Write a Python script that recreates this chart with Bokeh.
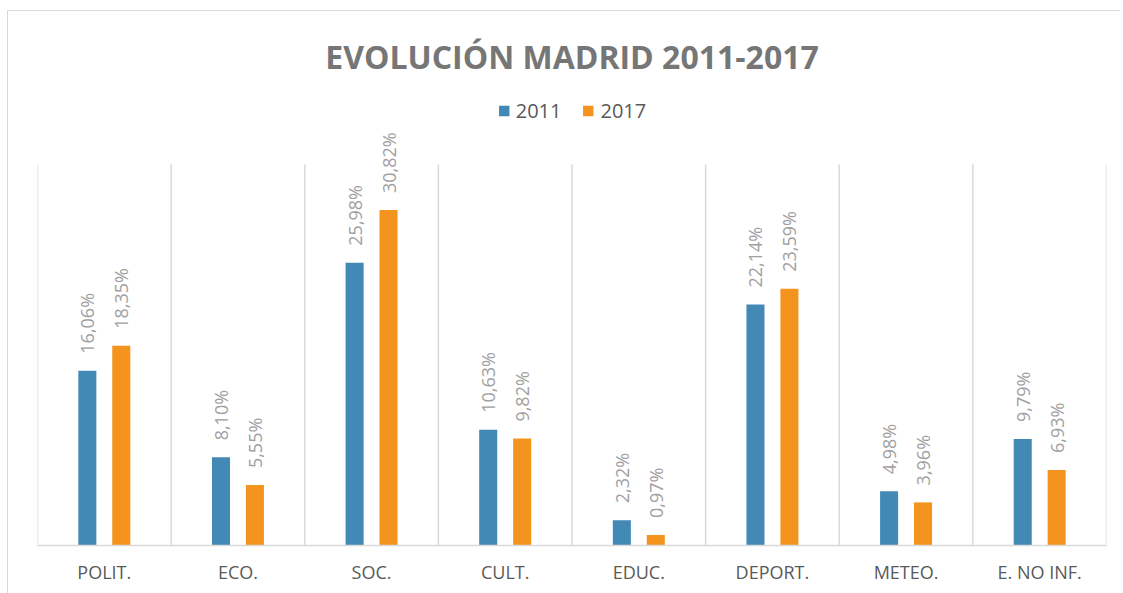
import numpy as np
from bokeh.plotting import figure
from bokeh.models import (ColumnDataSource, FixedTicker, Legend, LegendItem, Range1d)
from bokeh.core.properties import value
from bokeh.embed import file_html
from bokeh.resources import INLINE

categories = ["POLIT.", "ECO.", "SOC.", "CULT.", "EDUC.", "DEPORT.", "METEO.", "E. NO INF."]
series_names = ["2011", "2017"]
values_2011 = [16.06, 8.10, 25.98, 10.63, 2.32, 22.14, 4.98, 9.79]
values_2017 = [18.35, 5.55, 30.82, 9.82, 0.97, 23.59, 3.96, 6.93]
colors = ["#4389b5", "#f5931f"]
y_max = 35

FONT = "Open Sans"

p = figure(width=1120, height=593, output_backend="svg", toolbar_location=None,
           x_range=Range1d(0, len(categories)), y_range=Range1d(0, 42.26),
           min_border_left=37, min_border_right=14, min_border_top=85, min_border_bottom=48,
           title="EVOLUCIÓN MADRID 2011-2017")
p.outline_line_color = None
p.background_fill_color = "white"
p.border_fill_alpha = 0
p.styles = {"background": "linear-gradient(#d9d9d9,#d9d9d9) 7px 10px / 1px 100% no-repeat, "
                          "linear-gradient(#d9d9d9,#d9d9d9) 7px 10px / 100% 1px no-repeat, white"}

p.title.align = "center"
p.title.text_font = FONT
p.title.text_font_size = "32px"
p.title.text_font_style = "bold"
p.title.text_color = "#767676"
p.title.standoff = 15

centers = np.arange(len(categories)) + 0.5
offset = 0.127
bw = 0.135

# vertical separators between categories (gridlines up to the value-axis max)
bounds = np.arange(len(categories) + 1)
p.segment(x0=bounds, x1=bounds, y0=0, y1=y_max, line_color="#d9d9d9", line_width=1.5)

renderers = []
for vals, c, off in [(values_2011, colors[0], -offset), (values_2017, colors[1], offset)]:
    src = ColumnDataSource(dict(
        x=centers + off, top=vals,
        lbl=[("%.2f" % v).replace(".", ",") + "%" for v in vals]))
    r = p.vbar(x="x", top="top", width=bw, bottom=0, source=src, fill_color=c, line_color=None)
    renderers.append(r)
    p.text(x="x", y="top", text="lbl", source=src, angle=np.pi / 2, y_offset=-17,
           text_align="left", text_baseline="middle", text_color="#a0a0a0",
           text_font=value(FONT), text_font_size="18px")

# axes
p.yaxis.visible = False
p.ygrid.grid_line_color = None
p.xgrid.grid_line_color = None
ax = p.xaxis[0]
ax.ticker = FixedTicker(ticks=list(centers))
ax.major_label_overrides = {float(c): cat for c, cat in zip(centers, categories)}
ax.major_tick_line_color = None
ax.minor_tick_line_color = None
ax.major_tick_out = 0
ax.minor_tick_out = 0
ax.major_tick_in = 0
ax.axis_line_color = "#d9d9d9"
ax.axis_line_width = 1.5
ax.major_label_text_font = FONT
ax.major_label_text_font_size = "18px"
ax.major_label_text_color = "#595959"
ax.major_label_standoff = 14

legend = Legend(items=[LegendItem(label=n, renderers=[r]) for n, r in zip(series_names, renderers)],
                orientation="horizontal", location="top_center",
                label_text_font=FONT, label_text_font_size="20px", label_text_color="#595959",
                glyph_width=13, glyph_height=13, spacing=20, label_standoff=6,
                border_line_color=None, background_fill_alpha=0, margin=12, padding=2)
p.add_layout(legend)

open("out.html", "w").write(file_html(p, INLINE))
